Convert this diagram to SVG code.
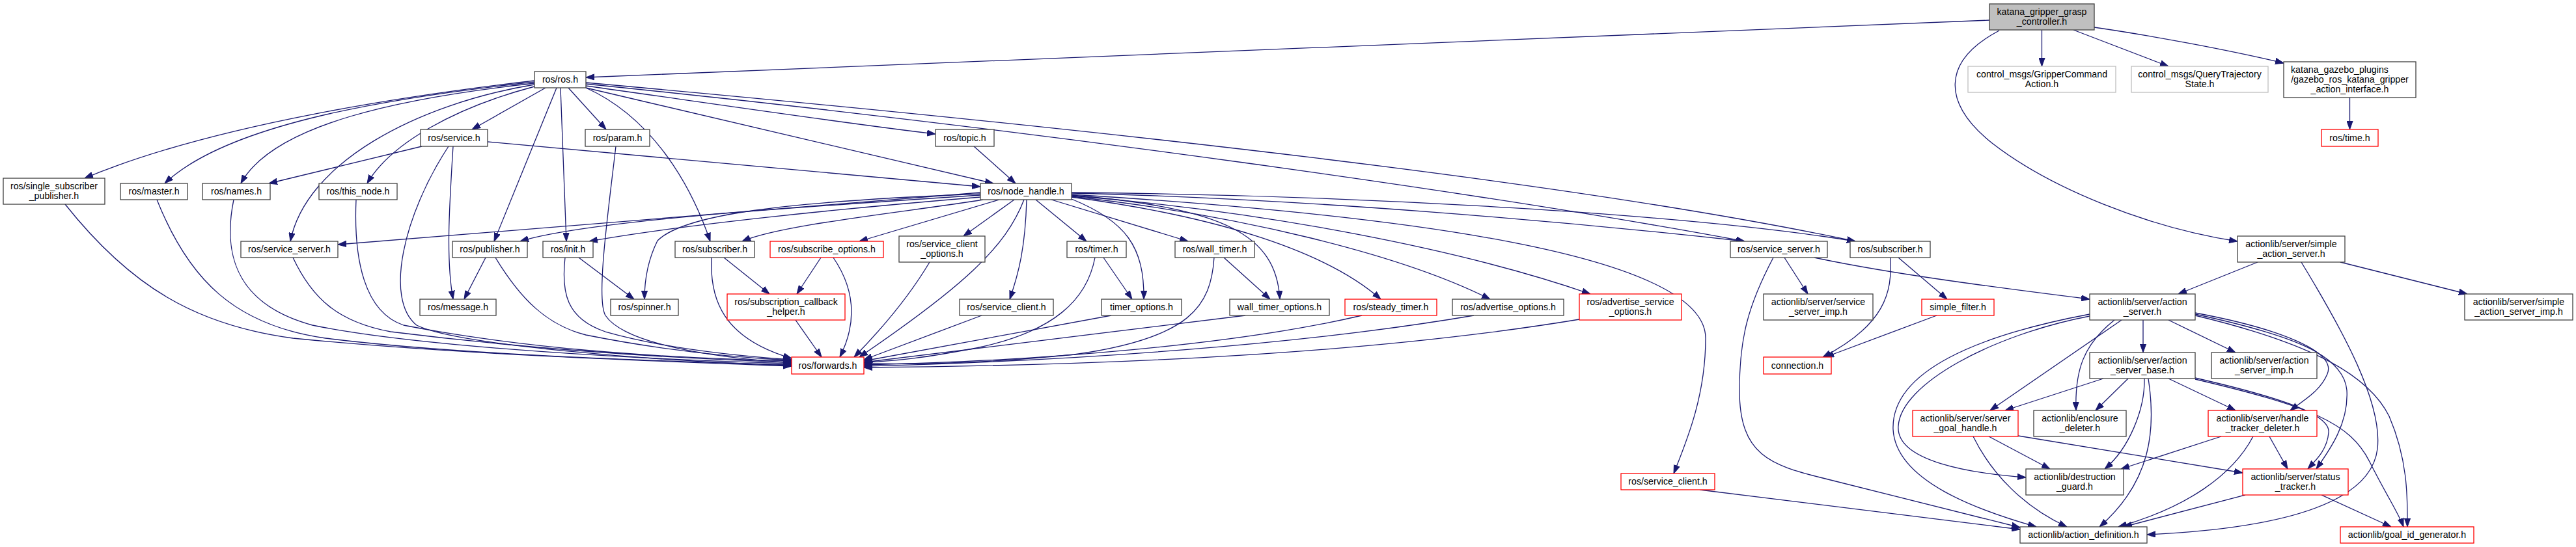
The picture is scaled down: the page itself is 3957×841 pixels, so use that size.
<svg xmlns="http://www.w3.org/2000/svg" width="3957" height="841" viewBox="0 0 3957 841">
<style>
.e{fill:none;stroke:#191970;stroke-width:1.3;marker-end:url(#ah)}
.n{fill:#fff;stroke:#404040;stroke-width:1.3}
.nr{fill:#fff;stroke:#ff0000;stroke-width:1.3}
.ng{fill:#fff;stroke:#bfbfbf;stroke-width:1.3}
.root{fill:#bfbfbf;stroke:#404040;stroke-width:1.3}
text{font-family:"Liberation Sans",Arial,Helvetica,sans-serif;font-size:14.2px;fill:#000;text-anchor:middle}
text.l{text-anchor:start}
</style>
<defs>
<marker id="ah" viewBox="0 0 13 10" refX="13" refY="5" markerWidth="13" markerHeight="10" markerUnits="userSpaceOnUse" orient="auto"><path d="M0,0.4 L13,5 L0,9.6 z" fill="#191970" stroke="#191970" stroke-width="1"/></marker>
</defs>
<rect x="0" y="0" width="3957" height="841" fill="#fff"/>
<g id="edges">
<path class="e" d="M3056,31 L900,119"/>
<path class="e" d="M3136.5,46 L3136.5,102"/>
<path class="e" d="M3185,46 L3331,102"/>
<path class="e" d="M3217,42 C3300,54 3420,76 3508,97"/>
<path class="e" d="M3071,47 C2980,95 2985,160 3060,220 C3150,290 3300,350 3437,371"/>
<path class="e" d="M3609.5,150 L3609.5,199"/>
<path class="e" d="M3468,403 L3346,452"/>
<path class="e" d="M3535,403 C3600,510 3660,620 3652,690 C3640,790 3450,815 3298,822"/>
<path class="e" d="M3595,403 L3790,452"/>
<path class="e" d="M3292,492 L3292,542"/>
<path class="e" d="M3331,492 L3434,542"/>
<path class="e" d="M3372,481 C3500,505 3590,540 3575,575 C3565,600 3540,615 3518,631"/>
<path class="e" d="M3372,483 C3520,515 3600,545 3605,600 C3608,650 3580,690 3558,721"/>
<path class="e" d="M3372,485 C3560,530 3640,580 3670,640 C3700,710 3698,770 3698,810"/>
<path class="e" d="M3259,492 L3057,631"/>
<path class="e" d="M3248,492 C3200,530 3187,570 3189,631"/>
<path class="e" d="M3210,483 C3040,515 2905,570 2908,660 C2912,740 3040,785 3128,810"/>
<path class="e" d="M3210,486 C3060,515 2920,590 2916,655 C2912,710 3030,728 3112,734"/>
<path class="e" d="M3231,582 L3080,631"/>
<path class="e" d="M3269,582 L3219,631"/>
<path class="e" d="M3294,582 C3295,630 3270,690 3233,721"/>
<path class="e" d="M3300,582 C3312,660 3305,740 3225,810"/>
<path class="e" d="M3331,582 L3434,631"/>
<path class="e" d="M3372,581 C3520,615 3580,640 3577,665 C3575,690 3560,705 3545,721"/>
<path class="e" d="M3372,583 C3550,625 3610,650 3640,710 C3665,760 3685,790 3692,810"/>
<path class="e" d="M3486,671 L3514,721"/>
<path class="e" d="M3412,671 L3258,721"/>
<path class="e" d="M3461,671 C3430,730 3360,780 3254,810"/>
<path class="e" d="M3449,761 L3262,810"/>
<path class="e" d="M3566,761 L3673,810"/>
<path class="e" d="M3055,671 L3149,721"/>
<path class="e" d="M3031,671 C3060,730 3110,780 3175,810"/>
<path class="e" d="M3100,670 L3445,727"/>
<path class="e" d="M2741,396 L2777,452"/>
<path class="e" d="M2787,396 C2900,420 3050,440 3210,460"/>
<path class="e" d="M2724,396 C2685,470 2672,520 2672,600 C2672,700 2720,715 2800,735 C2900,760 3000,785 3103,811"/>
<path class="e" d="M2904,396 C2907,450 2895,500 2800,549"/>
<path class="e" d="M2916,396 L2991,460"/>
<path class="e" d="M2975,485 L2804,549"/>
<path class="e" d="M2611,753 L3103,814"/>
<path class="e" d="M821,124 C640,145 330,190 130,274"/>
<path class="e" d="M821,126 C600,150 350,190 253,282"/>
<path class="e" d="M821,128 C620,150 420,190 370,282"/>
<path class="e" d="M821,130 C640,160 470,250 446,371"/>
<path class="e" d="M821,133 C700,165 600,220 564,282"/>
<path class="e" d="M838,135 L725,199"/>
<path class="e" d="M855,135 L759,371"/>
<path class="e" d="M861,135 L870,371"/>
<path class="e" d="M873,135 L931,199"/>
<path class="e" d="M900,135 C1000,180 1060,280 1091,371"/>
<path class="e" d="M900,132 C1100,160 1300,190 1437,206"/>
<path class="e" d="M900,135 L1526,282"/>
<path class="e" d="M900,127 C1600,190 2400,275 2850,371"/>
<path class="e" d="M900,129 C1600,200 2300,300 2680,371"/>
<path class="e" d="M648,225 L413,282"/>
<path class="e" d="M696,225 C690,320 685,400 696,460"/>
<path class="e" d="M689,225 C620,330 590,460 640,500 C700,530 1000,555 1216,562"/>
<path class="e" d="M749,218 L1506,287"/>
<path class="e" d="M946,225 C935,320 915,460 930,485 C960,530 1100,550 1216,558"/>
<path class="e" d="M1496,225 L1560,282"/>
<path class="e" d="M100,314 C200,440 300,500 450,520 C700,545 1000,555 1216,563"/>
<path class="e" d="M241,307 C290,430 360,500 500,520 C700,545 1000,555 1216,561"/>
<path class="e" d="M359,307 C340,400 370,470 480,500 C650,535 1000,553 1216,559"/>
<path class="e" d="M450,396 C480,460 520,495 600,510 C800,535 1000,550 1216,557"/>
<path class="e" d="M547,307 C543,400 560,480 620,500 C800,535 1000,550 1216,555"/>
<path class="e" d="M746,396 L713,460"/>
<path class="e" d="M761,396 C800,460 840,500 900,515 C1000,535 1100,548 1216,554"/>
<path class="e" d="M868,396 C862,450 870,490 930,510 C1000,530 1100,545 1216,553"/>
<path class="e" d="M889,396 L974,460"/>
<path class="e" d="M1506,298 C1200,310 1050,330 1010,370 C995,400 990,430 990,460"/>
<path class="e" d="M1093,396 C1090,460 1110,520 1216,551"/>
<path class="e" d="M1112,396 L1182,452"/>
<path class="e" d="M1261,396 L1224,452"/>
<path class="e" d="M1280,396 C1310,440 1320,490 1290,549"/>
<path class="e" d="M1222,492 L1262,549"/>
<path class="e" d="M1428,403 C1400,450 1360,500 1312,549"/>
<path class="e" d="M1573,307 C1545,380 1480,440 1320,549"/>
<path class="e" d="M1508,485 L1327,553"/>
<path class="e" d="M1682,396 C1670,460 1620,510 1500,535 C1420,550 1380,555 1327,557"/>
<path class="e" d="M1695,396 L1739,460"/>
<path class="e" d="M1707,485 L1327,555"/>
<path class="e" d="M1865,396 C1860,470 1830,520 1650,545 C1500,560 1400,560 1327,559"/>
<path class="e" d="M1880,396 L1951,460"/>
<path class="e" d="M1913,485 L1327,557"/>
<path class="e" d="M2092,485 C1900,530 1600,555 1327,561"/>
<path class="e" d="M2264,485 C2000,530 1650,555 1327,563"/>
<path class="e" d="M2426,491 C2100,545 1700,562 1327,565"/>
<path class="e" d="M1506,296 L519,376"/>
<path class="e" d="M1506,300 C1200,320 900,340 799,371"/>
<path class="e" d="M1506,303 C1300,320 1050,345 905,371"/>
<path class="e" d="M1510,307 C1400,325 1200,345 1140,371"/>
<path class="e" d="M1535,307 L1320,371"/>
<path class="e" d="M1558,307 L1480,363"/>
<path class="e" d="M1577,307 C1575,380 1565,420 1551,460"/>
<path class="e" d="M1591,307 L1669,371"/>
<path class="e" d="M1615,307 L1825,371"/>
<path class="e" d="M1646,306 C1730,340 1758,380 1757,460"/>
<path class="e" d="M1646,300 C1880,320 1960,360 1966,460"/>
<path class="e" d="M1646,303 C1850,330 2030,380 2121,460"/>
<path class="e" d="M1646,302 C1900,330 2150,390 2289,460"/>
<path class="e" d="M1646,301 C1950,325 2250,385 2443,452"/>
<path class="e" d="M1646,299 C2150,330 2620,390 2620,520 C2620,610 2590,680 2571,728"/>
<path class="e" d="M1646,297 C2000,305 2400,340 2680,371"/>
<path class="e" d="M1646,296 C2100,300 2600,330 2850,371"/>
</g>
<g id="n_root"><rect class="root" x="3056" y="6" width="161" height="40"/><text x="3136.5" y="23">katana_gripper_grasp</text><text x="3136.5" y="38">_controller.h</text></g>
<g id="n_gca"><rect class="ng" x="3023" y="102" width="227" height="40"/><text x="3136.5" y="119">control_msgs/GripperCommand</text><text x="3136.5" y="134">Action.h</text></g>
<g id="n_qts"><rect class="ng" x="3274" y="102" width="210" height="40"/><text x="3379" y="119">control_msgs/QueryTrajectory</text><text x="3379" y="134">State.h</text></g>
<g id="n_kgp"><rect class="n" x="3508" y="95" width="203" height="55"/><text class="l" x="3519" y="112">katana_gazebo_plugins</text><text x="3609.5" y="127">/gazebo_ros_katana_gripper</text><text x="3609.5" y="142">_action_interface.h</text></g>
<g id="n_time"><rect class="nr" x="3566" y="199" width="87" height="26"/><text x="3609.5" y="216.5">ros/time.h</text></g>
<g id="n_sas"><rect class="n" x="3437" y="363" width="165" height="40"/><text x="3519.5" y="380">actionlib/server/simple</text><text x="3519.5" y="395">_action_server.h</text></g>
<g id="n_sasi"><rect class="n" x="3786" y="452" width="166" height="40"/><text x="3869" y="469">actionlib/server/simple</text><text x="3869" y="484">_action_server_imp.h</text></g>
<g id="n_as"><rect class="n" x="3210" y="452" width="162" height="40"/><text x="3291" y="469">actionlib/server/action</text><text x="3291" y="484">_server.h</text></g>
<g id="n_asb"><rect class="n" x="3210" y="542" width="162" height="40"/><text x="3291" y="559">actionlib/server/action</text><text x="3291" y="574">_server_base.h</text></g>
<g id="n_asi"><rect class="n" x="3397" y="542" width="162" height="40"/><text x="3478" y="559">actionlib/server/action</text><text x="3478" y="574">_server_imp.h</text></g>
<g id="n_htd"><rect class="nr" x="3392" y="631" width="167" height="40"/><text x="3475.5" y="648">actionlib/server/handle</text><text x="3475.5" y="663">_tracker_deleter.h</text></g>
<g id="n_sgh"><rect class="nr" x="2938" y="631" width="162" height="40"/><text x="3019" y="648">actionlib/server/server</text><text x="3019" y="663">_goal_handle.h</text></g>
<g id="n_ed"><rect class="n" x="3124" y="631" width="142" height="40"/><text x="3195" y="648">actionlib/enclosure</text><text x="3195" y="663">_deleter.h</text></g>
<g id="n_dg"><rect class="n" x="3112" y="721" width="150" height="40"/><text x="3187" y="738">actionlib/destruction</text><text x="3187" y="753">_guard.h</text></g>
<g id="n_st"><rect class="nr" x="3445" y="721" width="162" height="40"/><text x="3526" y="738">actionlib/server/status</text><text x="3526" y="753">_tracker.h</text></g>
<g id="n_ad"><rect class="n" x="3103" y="810" width="195" height="25"/><text x="3200.5" y="827">actionlib/action_definition.h</text></g>
<g id="n_gig"><rect class="nr" x="3595" y="810" width="205" height="25"/><text x="3697.5" y="827">actionlib/goal_id_generator.h</text></g>
<g id="n_ros"><rect class="n" x="821" y="110" width="79" height="25"/><text x="860.5" y="127">ros/ros.h</text></g>
<g id="n_ssp"><rect class="n" x="5" y="274" width="156" height="40"/><text x="83" y="291">ros/single_subscriber</text><text x="83" y="306">_publisher.h</text></g>
<g id="n_master"><rect class="n" x="185" y="282" width="103" height="25"/><text x="236.5" y="299">ros/master.h</text></g>
<g id="n_names"><rect class="n" x="311" y="282" width="104" height="25"/><text x="363" y="299">ros/names.h</text></g>
<g id="n_thisnode"><rect class="n" x="490" y="282" width="120" height="25"/><text x="550" y="299">ros/this_node.h</text></g>
<g id="n_service"><rect class="n" x="646" y="199" width="103" height="26"/><text x="697.5" y="216.5">ros/service.h</text></g>
<g id="n_param"><rect class="n" x="899" y="199" width="99" height="26"/><text x="948.5" y="216.5">ros/param.h</text></g>
<g id="n_topic"><rect class="n" x="1437" y="199" width="90" height="26"/><text x="1482" y="216.5">ros/topic.h</text></g>
<g id="n_nh"><rect class="n" x="1506" y="282" width="140" height="25"/><text x="1576" y="299">ros/node_handle.h</text></g>
<g id="n_ssvl"><rect class="n" x="370" y="371" width="149" height="25"/><text x="444.5" y="388">ros/service_server.h</text></g>
<g id="n_pub"><rect class="n" x="695" y="371" width="115" height="25"/><text x="752.5" y="388">ros/publisher.h</text></g>
<g id="n_init"><rect class="n" x="834" y="371" width="77" height="25"/><text x="872.5" y="388">ros/init.h</text></g>
<g id="n_subl"><rect class="n" x="1037" y="371" width="122" height="25"/><text x="1098" y="388">ros/subscriber.h</text></g>
<g id="n_subopt"><rect class="nr" x="1183" y="371" width="174" height="25"/><text x="1270" y="388">ros/subscribe_options.h</text></g>
<g id="n_sco"><rect class="n" x="1381" y="363" width="132" height="40"/><text x="1447" y="380">ros/service_client</text><text x="1447" y="395">_options.h</text></g>
<g id="n_timer"><rect class="n" x="1639" y="371" width="91" height="25"/><text x="1684.5" y="388">ros/timer.h</text></g>
<g id="n_walltimer"><rect class="n" x="1805" y="371" width="122" height="25"/><text x="1866" y="388">ros/wall_timer.h</text></g>
<g id="n_ssvr"><rect class="n" x="2658" y="371" width="149" height="25"/><text x="2732.5" y="388">ros/service_server.h</text></g>
<g id="n_subr"><rect class="n" x="2842" y="371" width="123" height="25"/><text x="2903.5" y="388">ros/subscriber.h</text></g>
<g id="n_message"><rect class="n" x="645" y="460" width="117" height="25"/><text x="703.5" y="477">ros/message.h</text></g>
<g id="n_spinner"><rect class="n" x="938" y="460" width="104" height="25"/><text x="990" y="477">ros/spinner.h</text></g>
<g id="n_sch"><rect class="nr" x="1117" y="452" width="181" height="40"/><text x="1207.5" y="469">ros/subscription_callback</text><text x="1207.5" y="484">_helper.h</text></g>
<g id="n_forwards"><rect class="nr" x="1216" y="549" width="111" height="26"/><text x="1271.5" y="566.5">ros/forwards.h</text></g>
<g id="n_svcclient"><rect class="n" x="1474" y="460" width="144" height="25"/><text x="1546" y="477">ros/service_client.h</text></g>
<g id="n_timeropts"><rect class="n" x="1692" y="460" width="123" height="25"/><text x="1753.5" y="477">timer_options.h</text></g>
<g id="n_walltimeropts"><rect class="n" x="1889" y="460" width="153" height="25"/><text x="1965.5" y="477">wall_timer_options.h</text></g>
<g id="n_steady"><rect class="nr" x="2066" y="460" width="141" height="25"/><text x="2136.5" y="477">ros/steady_timer.h</text></g>
<g id="n_advopts"><rect class="n" x="2231" y="460" width="171" height="25"/><text x="2316.5" y="477">ros/advertise_options.h</text></g>
<g id="n_advsrv"><rect class="nr" x="2426" y="452" width="157" height="40"/><text x="2504.5" y="469">ros/advertise_service</text><text x="2504.5" y="484">_options.h</text></g>
<g id="n_svcclient2"><rect class="nr" x="2490" y="728" width="144" height="25"/><text x="2562" y="745">ros/service_client.h</text></g>
<g id="n_ssi"><rect class="n" x="2709" y="452" width="168" height="40"/><text x="2793" y="469">actionlib/server/service</text><text x="2793" y="484">_server_imp.h</text></g>
<g id="n_filter"><rect class="nr" x="2952" y="460" width="111" height="25"/><text x="3007.5" y="477">simple_filter.h</text></g>
<g id="n_conn"><rect class="nr" x="2709" y="549" width="104" height="26"/><text x="2761" y="566.5">connection.h</text></g>
</svg>
